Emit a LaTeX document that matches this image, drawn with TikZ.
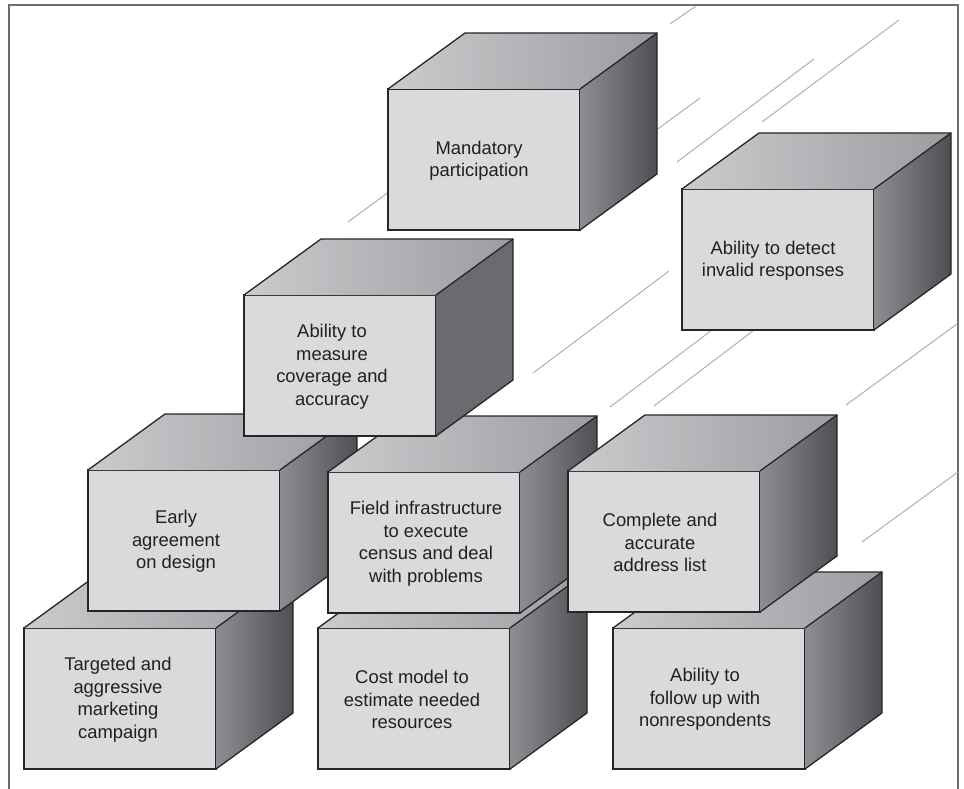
\documentclass[tikz,border=0pt]{standalone}
\usepackage{fontspec}
\setmainfont{Liberation Sans}
\definecolor{edgec}{HTML}{262626}
\definecolor{frontc}{HTML}{D9DADC}
\definecolor{topL}{HTML}{CACBCD}
\definecolor{topR}{HTML}{9C9DA0}
\definecolor{sideL}{HTML}{8D8E91}
\definecolor{sideR}{HTML}{4E4F52}
\definecolor{sideU}{HTML}{6A6B6F}
\definecolor{txtc}{HTML}{231F20}
\definecolor{linec}{HTML}{B0B0B0}
\definecolor{framec}{HTML}{6E6E6E}
\newcommand\cubebox[7]{% name, x, y, text, text shift, side left colour, side right colour
  \node[frontface] (#1) at (#2,#3) {};
  \shade[left color=topL, right color=topR] (#1.north west) -- ++(77,-56) -- ++(192,0) -- (#1.north east) -- cycle;
  \shade[left color=#6, right color=#7] (#1.north east) -- ++(77,-56) -- ++(0,141) -- (#1.south east) -- cycle;
  \draw[faceedge] (#1.north west) -- ++(77,-56) -- ++(192,0) -- ++(0,141) -- (#1.south east);
  \draw[faceedge] (#1.north east) -- ++(77,-56);
  \node[cubetext] (#1-t) at ([xshift=#5,yshift=-1pt]#1.center) {#4};
}
\begin{document}
\begin{tikzpicture}[x=1pt,y=-1pt,
  faceedge/.style={draw=edgec, line width=1.3pt, line join=miter},
  frontface/.style={draw=edgec, line width=1.3pt, fill=frontc, minimum width=192pt, minimum height=141pt, anchor=north west, inner sep=0pt, outer sep=0pt},
  cubetext/.style={font=\fontsize{18.4}{22.5}\selectfont, text=txtc, align=center, inner sep=0pt},
  bgline/.style={draw=linec, line width=1pt}
]
\useasboundingbox (0,0) rectangle (964,789);
% frame
\coordinate (f1) at (9,789);
\coordinate (f2) at (9,5);
\coordinate (f3) at (958,5);
\coordinate (f4) at (958,789);
\draw[framec, line width=1.6pt] (f1) -- (f2) -- (f3) -- (f4);
% background diagonal lines
\coordinate (a1) at (670,24);  \coordinate (a2) at (696,6);
\coordinate (b1) at (762,122); \coordinate (b2) at (899,20);
\coordinate (c1) at (677,162); \coordinate (c2) at (814,59);
\coordinate (d1) at (640,142); \coordinate (d2) at (700,98);
\coordinate (e1) at (348,222); \coordinate (e2) at (420,169);
\coordinate (g1) at (533,373); \coordinate (g2) at (669,271);
\coordinate (h1) at (610,407); \coordinate (h2) at (724,321);
\coordinate (i1) at (654,406); \coordinate (i2) at (766,321);
\coordinate (j1) at (846,405); \coordinate (j2) at (957,324);
\coordinate (k1) at (862,542); \coordinate (k2) at (958,472);
\foreach \p in {a,b,c,d,e,g,h,i,j,k}{\draw[bgline] (\p1) -- (\p2);}
% cubes (back to front)
\cubebox{mand}{388}{89}{Mandatory\\participation}{-5pt}{sideL}{sideR}
\cubebox{detect}{682}{189}{Ability to detect\\invalid responses}{-5pt}{sideL}{sideR}
\cubebox{target}{24}{628}{Targeted and\\aggressive\\marketing\\campaign}{-2pt}{sideL}{sideR}
\cubebox{cost}{318}{628}{Cost model to\\estimate needed\\resources}{-2pt}{sideL}{sideR}
\cubebox{follow}{613}{628}{Ability to\\follow up with\\nonrespondents}{-4pt}{sideL}{sideR}
\cubebox{early}{88}{470}{Early\\agreement\\on design}{-8pt}{sideL}{sideR}
\cubebox{field}{328}{472}{Field infrastructure\\to execute\\census and deal\\with problems}{2pt}{sideL}{sideR}
\cubebox{complete}{568}{471}{Complete and\\accurate\\address list}{-4pt}{sideL}{sideR}
\cubebox{measure}{244}{295}{Ability to\\measure\\coverage and\\accuracy}{-8pt}{sideU}{sideU}
\end{tikzpicture}
\end{document}
